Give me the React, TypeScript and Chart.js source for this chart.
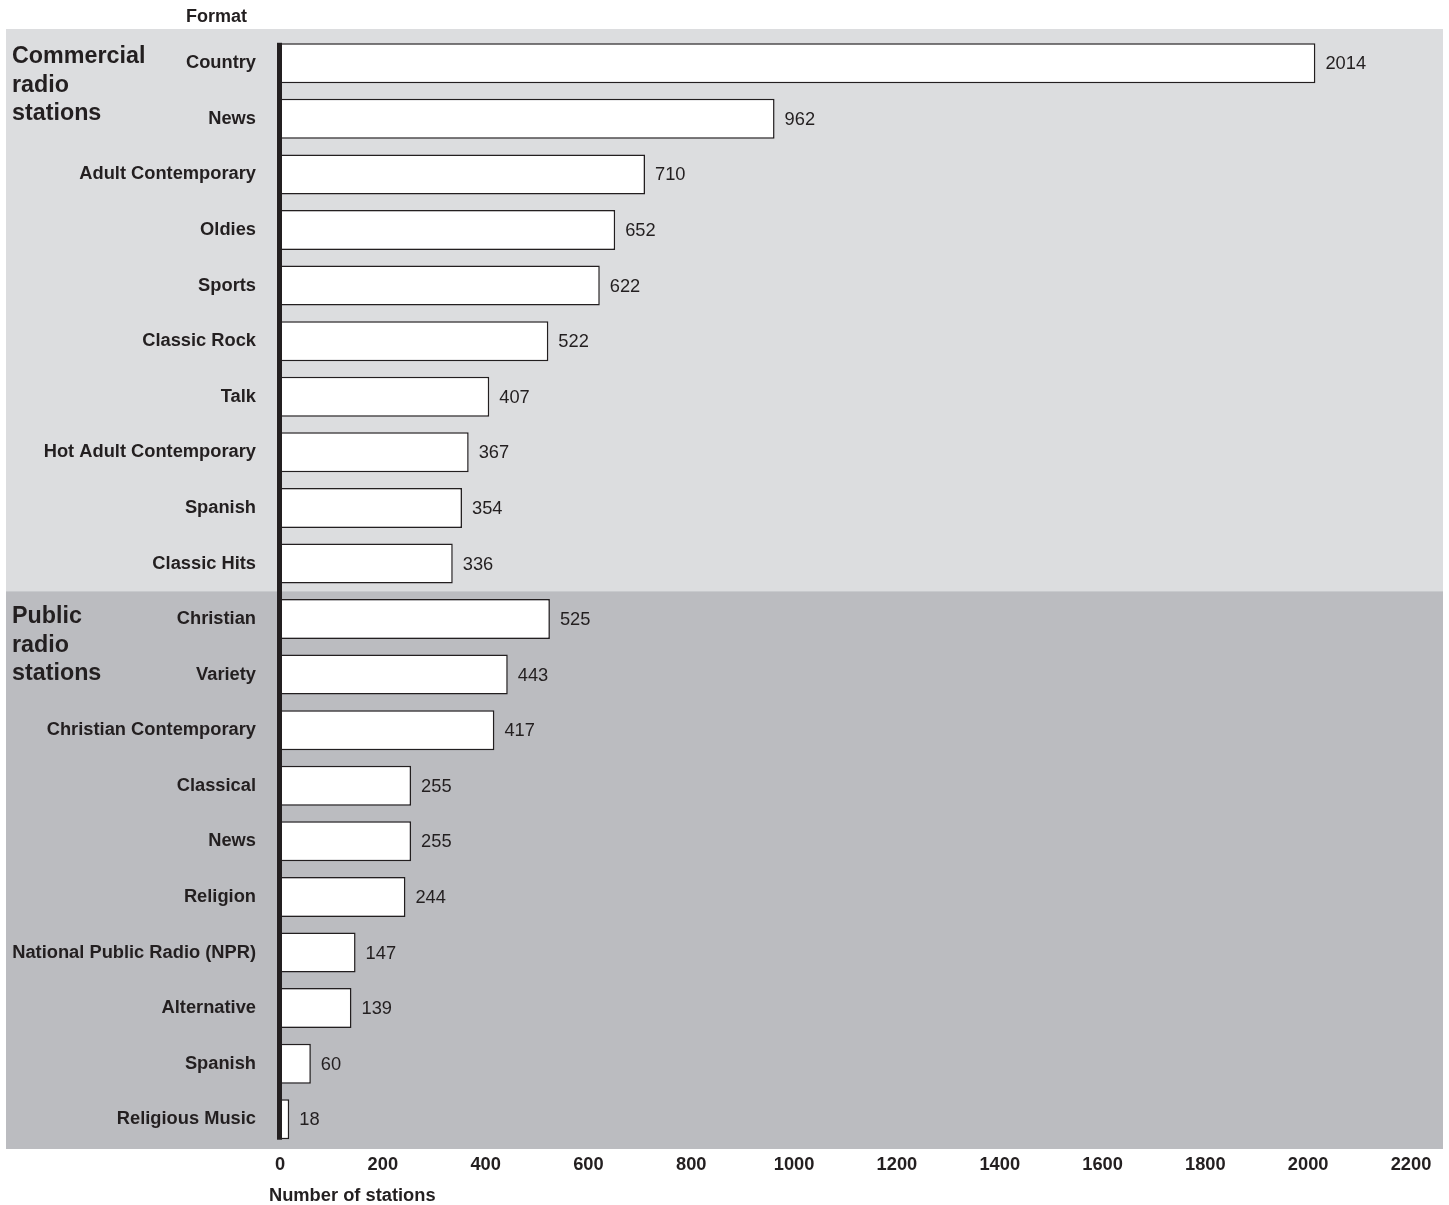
import { useEffect, useRef } from "react";
import { Chart, registerables } from "chart.js";

Chart.register(...registerables);

// Station counts by format, commercial group first, then public group
const commercialFormats = [
  "Country",
  "News",
  "Adult Contemporary",
  "Oldies",
  "Sports",
  "Classic Rock",
  "Talk",
  "Hot Adult Contemporary",
  "Spanish",
  "Classic Hits",
];
const commercialCounts = [2014, 962, 710, 652, 622, 522, 407, 367, 354, 336];

const publicFormats = [
  "Christian",
  "Variety",
  "Christian Contemporary",
  "Classical",
  "News",
  "Religion",
  "National Public Radio (NPR)",
  "Alternative",
  "Spanish",
  "Religious Music",
];
const publicCounts = [525, 443, 417, 255, 255, 244, 147, 139, 60, 18];

const groupTitles = [
  ["Commercial", "radio", "stations"],
  ["Public", "radio", "stations"],
];

const xMin = 0;
const xMax = 2200;
const xStep = 200;

const axisTitle = "Number of stations";
const categoryTitle = "Format";

const FONT = "'Liberation Sans', Arial, Helvetica, sans-serif";
const INK = "#231f20";
const LIGHT_BAND = "#dcdddf";
const DARK_BAND = "#bbbcc0";

export default function App() {
  const canvasRef = useRef<HTMLCanvasElement | null>(null);

  useEffect(() => {
    document.body.style.margin = "0";
    const canvas = canvasRef.current;
    if (!canvas) return;

    const labels = [...commercialFormats, ...publicFormats];
    const values = [...commercialCounts, ...publicCounts];
    const splitIndex = commercialFormats.length;

    // Shaded group bands behind the bars
    const bandsPlugin = {
      id: "groupBands",
      beforeDraw(chart: any) {
        const { ctx, width } = chart;
        const y = chart.scales.y;
        const half = (y.getPixelForValue(1) - y.getPixelForValue(0)) / 2;
        const top = y.getPixelForValue(0) - half - 6.5;
        const split = (y.getPixelForValue(splitIndex - 1) + y.getPixelForValue(splitIndex)) / 2;
        const bottom = y.getPixelForValue(labels.length - 1) + half + 2;
        ctx.save();
        ctx.fillStyle = LIGHT_BAND;
        ctx.fillRect(6, top, width - 12, split - top);
        ctx.fillStyle = DARK_BAND;
        ctx.fillRect(6, split, width - 12, bottom - split);
        ctx.restore();
      },
    };

    // Baseline rule, value labels, group titles and axis titles
    const overlayPlugin = {
      id: "overlay",
      afterDatasetsDraw(chart: any) {
        const { ctx } = chart;
        const x = chart.scales.x;
        const y = chart.scales.y;
        const bars = chart.getDatasetMeta(0).data;
        ctx.save();

        // thick zero line spanning the bars
        const first = bars[0];
        const last = bars[bars.length - 1];
        const lineTop = first.y - first.height / 2 - 0.5;
        const lineBottom = last.y + last.height / 2 + 0.5;
        ctx.fillStyle = INK;
        ctx.fillRect(x.getPixelForValue(0) - 3, lineTop, 5, lineBottom - lineTop);

        // value labels
        ctx.font = `18.3px ${FONT}`;
        ctx.textAlign = "left";
        ctx.textBaseline = "middle";
        bars.forEach((bar: any, i: number) => {
          ctx.fillText(String(values[i]), bar.x + 10, bar.y + 1);
        });

        // group titles
        ctx.font = `bold 23.3px ${FONT}`;
        ctx.textBaseline = "alphabetic";
        const starts = [0, splitIndex];
        groupTitles.forEach((lines, g) => {
          const base = y.getPixelForValue(starts[g]) + (g === 0 ? 0 : 4);
          lines.forEach((line, k) => {
            ctx.fillText(line, 12, base + k * 28.5);
          });
        });

        // axis titles
        ctx.font = `bold 18px ${FONT}`;
        ctx.textBaseline = "middle";
        ctx.textAlign = "center";
        ctx.fillText(categoryTitle, 216.5, 17);
        ctx.font = `bold 18.3px ${FONT}`;
        ctx.textAlign = "left";
        ctx.fillText(axisTitle, 269, 1196);

        ctx.restore();
      },
    };

    const chart = new Chart(canvas, {
      type: "bar",
      data: {
        labels,
        datasets: [
          {
            data: values,
            backgroundColor: "#ffffff",
            borderColor: INK,
            borderWidth: 1.5,
            barPercentage: 0.72,
            categoryPercentage: 1,
          },
        ],
      },
      options: {
        indexAxis: "y",
        responsive: false,
        animation: false,
        layout: { padding: { top: 35.5, right: 38, bottom: 0, left: 0 } },
        plugins: {
          legend: { display: false },
          tooltip: { enabled: false },
        },
        scales: {
          x: {
            min: xMin,
            max: xMax,
            ticks: {
              stepSize: xStep,
              color: INK,
              font: { family: FONT, size: 18.3, weight: "bold" },
              padding: 7,
              callback: (v: any) => String(v),
            },
            grid: { display: false, drawTicks: false },
            border: { display: false },
            afterFit: (s: any) => {
              s.height = 58;
            },
          },
          y: {
            ticks: {
              color: INK,
              font: { family: FONT, size: 18.3, weight: "bold" },
              padding: 24,
              autoSkip: false,
            },
            grid: { display: false, drawTicks: false },
            border: { display: false },
            afterFit: (s: any) => {
              s.width = 280;
            },
          },
        },
      },
      plugins: [bandsPlugin, overlayPlugin],
    } as any);

    return () => chart.destroy();
  }, []);

  return (
    <div style={{ width: 1449, height: 1205, overflow: "hidden" }}>
      <canvas ref={canvasRef} width={1449} height={1205} style={{ display: "block" }} />
    </div>
  );
}
